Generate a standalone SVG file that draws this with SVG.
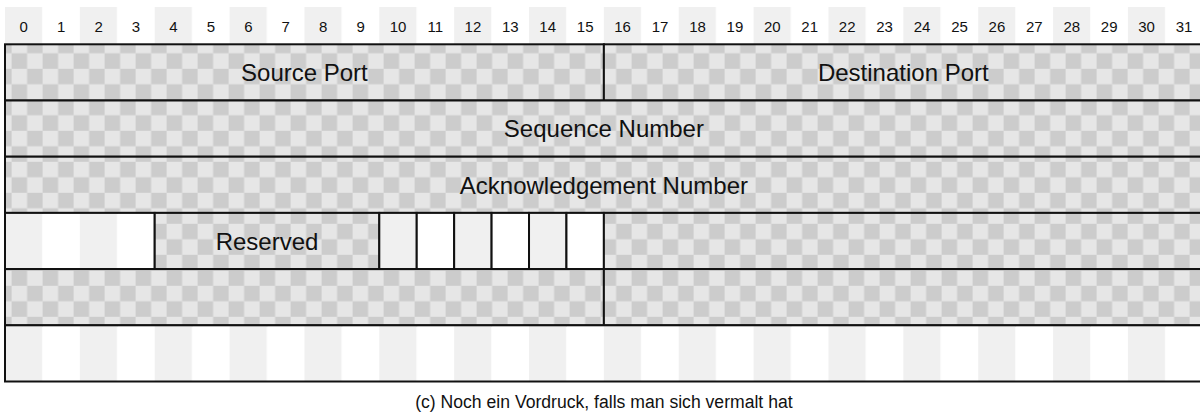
<svg xmlns="http://www.w3.org/2000/svg" width="1200" height="414" viewBox="0 0 1200 414">
<defs>
<pattern id="checker" patternUnits="userSpaceOnUse" x="11.6" y="6.8" width="31" height="31">
<rect x="0" y="0" width="31" height="31" fill="#e6e6e6"/>
<rect x="15.5" y="0" width="15.5" height="15.5" fill="#cccccc"/>
<rect x="0" y="15.5" width="15.5" height="15.5" fill="#cccccc"/>
</pattern>
<pattern id="stripes" patternUnits="userSpaceOnUse" x="5" y="0" width="74.86" height="414">
<rect x="0" y="0" width="37.43" height="414" fill="#f0f0f0"/>
<rect x="37.43" y="0" width="37.43" height="414" fill="#ffffff"/>
</pattern>
</defs>
<style>
.chk{fill:url(#checker);stroke:#111;stroke-width:2}
.str{fill:url(#stripes);stroke:#111;stroke-width:2}
.hdr{fill:url(#stripes)}
.num{font-family:"Liberation Sans",Arial,sans-serif;font-size:15px;fill:#111;text-anchor:middle}
.lbl{font-family:"Liberation Sans",Arial,sans-serif;font-size:24px;fill:#111;text-anchor:middle}
.cap{font-family:"Liberation Sans",Arial,sans-serif;font-size:17.6px;fill:#111;text-anchor:middle}
</style>
<rect width="1200" height="414" fill="#ffffff"/>
<g id="header">
<rect class="hdr" x="5" y="7" width="1197.76" height="37"/>
<text class="num" x="23.7" y="32">0</text>
<text class="num" x="61.1" y="32">1</text>
<text class="num" x="98.6" y="32">2</text>
<text class="num" x="136.0" y="32">3</text>
<text class="num" x="173.4" y="32">4</text>
<text class="num" x="210.9" y="32">5</text>
<text class="num" x="248.3" y="32">6</text>
<text class="num" x="285.7" y="32">7</text>
<text class="num" x="323.2" y="32">8</text>
<text class="num" x="360.6" y="32">9</text>
<text class="num" x="398.0" y="32">10</text>
<text class="num" x="435.4" y="32">11</text>
<text class="num" x="472.9" y="32">12</text>
<text class="num" x="510.3" y="32">13</text>
<text class="num" x="547.7" y="32">14</text>
<text class="num" x="585.2" y="32">15</text>
<text class="num" x="622.6" y="32">16</text>
<text class="num" x="660.0" y="32">17</text>
<text class="num" x="697.5" y="32">18</text>
<text class="num" x="734.9" y="32">19</text>
<text class="num" x="772.3" y="32">20</text>
<text class="num" x="809.7" y="32">21</text>
<text class="num" x="847.2" y="32">22</text>
<text class="num" x="884.6" y="32">23</text>
<text class="num" x="922.0" y="32">24</text>
<text class="num" x="959.5" y="32">25</text>
<text class="num" x="996.9" y="32">26</text>
<text class="num" x="1034.3" y="32">27</text>
<text class="num" x="1071.8" y="32">28</text>
<text class="num" x="1109.2" y="32">29</text>
<text class="num" x="1146.6" y="32">30</text>
<text class="num" x="1184.0" y="32">31</text>
</g>
<g id="source-port">
<rect class="chk" x="5" y="44.3" width="598.88" height="56.2"/>
<text class="lbl" x="304.4" y="81.2">Source Port</text>
</g>
<g id="destination-port">
<rect class="chk" x="603.88" y="44.3" width="598.88" height="56.2"/>
<text class="lbl" x="903.3" y="81.2">Destination Port</text>
</g>
<g id="sequence-number">
<rect class="chk" x="5" y="100.5" width="1197.76" height="56.2"/>
<text class="lbl" x="603.9" y="137.4">Sequence Number</text>
</g>
<g id="acknowledgement-number">
<rect class="chk" x="5" y="156.7" width="1197.76" height="56.2"/>
<text class="lbl" x="603.9" y="193.6">Acknowledgement Number</text>
</g>
<g id="data-offset">
<rect class="str" x="5" y="212.9" width="149.72" height="56.2"/>
</g>
<g id="reserved">
<rect class="chk" x="154.72" y="212.9" width="224.58" height="56.2"/>
<text class="lbl" x="267.0" y="249.8">Reserved</text>
</g>
<g id="flags">
<rect class="str" x="379.3" y="212.9" width="37.43" height="56.2"/>
<rect class="str" x="416.73" y="212.9" width="37.43" height="56.2"/>
<rect class="str" x="454.16" y="212.9" width="37.43" height="56.2"/>
<rect class="str" x="491.59" y="212.9" width="37.43" height="56.2"/>
<rect class="str" x="529.02" y="212.9" width="37.43" height="56.2"/>
<rect class="str" x="566.45" y="212.9" width="37.43" height="56.2"/>
</g>
<g id="window">
<rect class="chk" x="603.88" y="212.9" width="598.88" height="56.2"/>
</g>
<g id="checksum">
<rect class="chk" x="5" y="269.1" width="598.88" height="56.2"/>
</g>
<g id="urgent-pointer">
<rect class="chk" x="603.88" y="269.1" width="598.88" height="56.2"/>
</g>
<g id="options">
<rect class="str" x="5" y="325.3" width="1197.76" height="56.2"/>
</g>
<g id="connectors"></g>
<text class="cap" x="603.9" y="408.3">(c) Noch ein Vordruck, falls man sich vermalt hat</text>
</svg>
